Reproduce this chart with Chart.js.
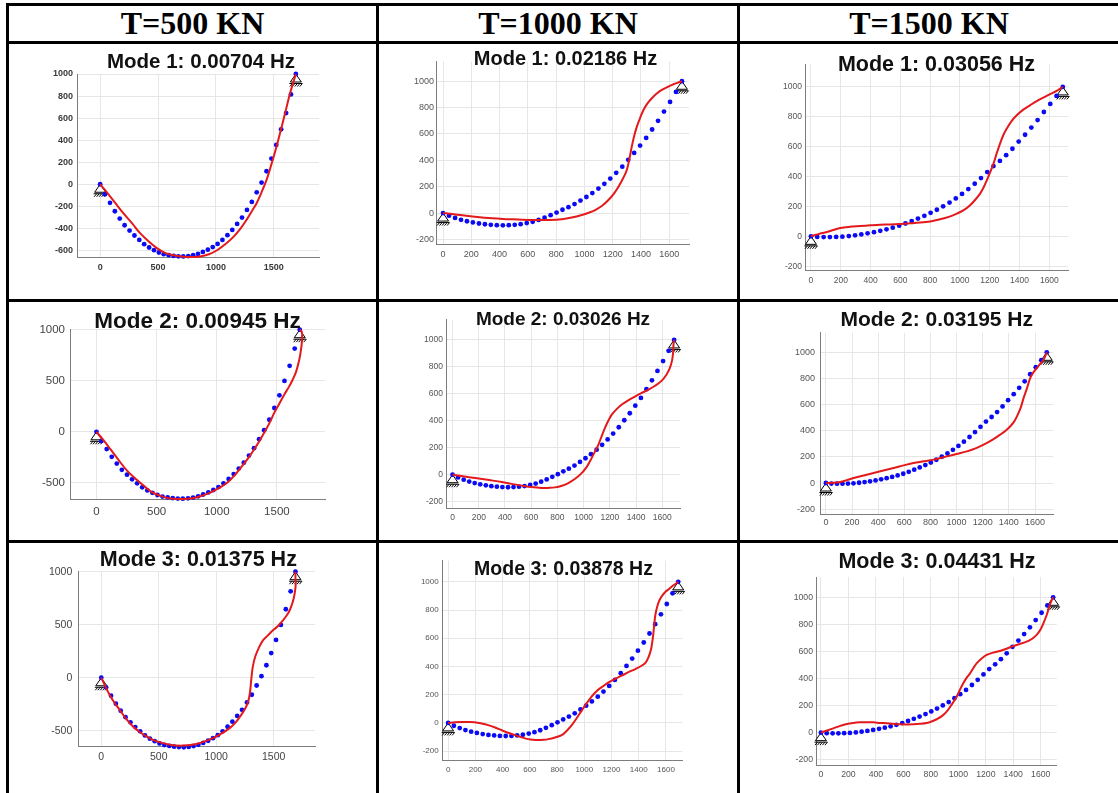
<!DOCTYPE html>
<html>
<head>
<meta charset="utf-8">
<script src="https://cdn.jsdelivr.net/npm/chart.js@4.4.1/dist/chart.umd.min.js"></script>
<style>
  body { margin: 0; background: #fff; width: 1118px; height: 793px; overflow: hidden; position: relative; }
  .rule { position: absolute; background: #000; }
  .head { position: absolute; top: 5px; height: 38px; line-height: 38px; text-align: center;
          font: bold 32px "Liberation Serif", "Times New Roman", serif; color: #000; }
  canvas { position: absolute; }
</style>
</head>
<body>
<script>
// ---------------------------------------------------------------------------
// Data
// ---------------------------------------------------------------------------
const loadLabels = ["T=500 KN", "T=1000 KN", "T=1500 KN"];

const modeTitles = [
    ["Mode 1: 0.00704 Hz", "Mode 1: 0.02186 Hz", "Mode 1: 0.03056 Hz"],
    ["Mode 2: 0.00945 Hz", "Mode 2: 0.03026 Hz", "Mode 2: 0.03195 Hz"],
    ["Mode 3: 0.01375 Hz", "Mode 3: 0.03878 Hz", "Mode 3: 0.04431 Hz"],
];

// x of the blue markers (static cable nodes)
const nodeX = [0, 42, 85, 127, 169, 211, 254, 296, 338, 380, 423, 465, 507, 549, 592, 634, 676, 718,
    761, 803, 845, 887, 930, 972, 1014, 1056, 1099, 1141, 1183, 1225, 1268, 1310, 1352, 1394, 1437,
    1479, 1521, 1563, 1606, 1648, 1690];

// static shape (blue dots) for each tension
const staticY500 = [0, -91, -169, -245, -311, -372, -420, -465, -505, -544, -574, -598, -619, -634,
    -643, -650, -654, -655, -652, -644, -632, -614, -594, -570, -541, -505, -462, -414, -360, -302,
    -233, -160, -73, 15, 118, 233, 357, 498, 646, 815, 1000];
const staticY1000 = [0, -20, -37, -51, -62, -71, -79, -85, -89, -92, -93, -92, -89, -84, -76, -66,
    -52, -35, -16, 4, 25, 45, 68, 95, 122, 152, 186, 222, 262, 305, 352, 404, 456, 512, 570, 634, 700,
    770, 843, 919, 1000];
const staticY1500 = [0, -4, -5, -5, -4, -2, 2, 7, 13, 20, 28, 37, 47, 58, 71, 86, 102, 119, 137, 157,
    178, 201, 226, 254, 284, 316, 352, 390, 430, 470, 505, 543, 586, 634, 680, 728, 778, 832, 886, 940,
    1000];

// mode shapes (red curves), [x, y]
const mode1T500 = [[0, 0], [60, -75], [130, -170], [200, -263], [280, -360], [345, -444], [420, -520],
    [490, -580], [560, -622], [632, -645], [700, -655], [780, -660], [862, -655], [940, -635],
    [1006, -601], [1080, -545], [1149, -480], [1210, -405], [1264, -323], [1310, -245], [1351, -172],
    [1395, -70], [1437, 39], [1480, 185], [1523, 341], [1560, 490], [1597, 643], [1640, 825], [1690, 1000]];
const mode1T1000 = [[0, 0], [100, -12], [226, -28], [350, -40], [462, -46], [560, -51], [651, -53],
    [750, -52], [840, -46], [910, -34], [982, -15], [1030, 2], [1076, 23], [1125, 55], [1170, 99],
    [1210, 150], [1241, 200], [1272, 260], [1300, 327], [1320, 420], [1335, 504], [1352, 585],
    [1371, 656], [1395, 725], [1418, 782], [1445, 830], [1477, 871], [1510, 905], [1548, 934],
    [1590, 957], [1630, 977], [1690, 1000]];
const mode1T1500 = [[0, 0], [50, 15], [107, 29], [150, 42], [197, 56], [260, 64], [331, 69], [400, 74],
    [465, 78], [530, 80], [599, 83], [665, 87], [733, 92], [800, 100], [867, 114], [925, 130], [979, 152],
    [1025, 175], [1068, 208], [1100, 242], [1135, 286], [1160, 330], [1180, 375], [1203, 430],
    [1225, 487], [1248, 560], [1269, 621], [1290, 675], [1314, 721], [1345, 770], [1381, 810],
    [1425, 848], [1470, 877], [1515, 905], [1560, 929], [1605, 952], [1649, 973], [1690, 1000]];

const mode2T500 = [[0, 0], [60, -85], [117, -172], [180, -270], [256, -383], [330, -465], [394, -529],
    [460, -590], [533, -627], [600, -650], [672, -659], [740, -657], [811, -649], [880, -625],
    [950, -594], [1020, -550], [1089, -497], [1150, -425], [1200, -351], [1260, -260], [1311, -172],
    [1355, -90], [1394, -10], [1440, 90], [1478, 185], [1520, 275], [1561, 364], [1600, 440],
    [1631, 510], [1660, 590], [1686, 705], [1700, 800], [1708, 883], [1710, 950], [1705, 985], [1690, 1000]];
const mode2T1000 = [[0, 0], [80, -12], [173, -25], [280, -40], [376, -54], [450, -68], [528, -81],
    [600, -92], [680, -99], [730, -98], [782, -94], [835, -82], [883, -62], [935, -30], [985, 12],
    [1025, 60], [1061, 123], [1088, 175], [1112, 222], [1137, 285], [1162, 346], [1188, 400],
    [1213, 444], [1250, 485], [1289, 519], [1340, 552], [1391, 580], [1440, 605], [1492, 630],
    [1545, 660], [1594, 696], [1630, 740], [1657, 790], [1675, 850], [1683, 914], [1685, 960], [1690, 1000]];
const mode2T1500 = [[0, 0], [55, 2], [110, 8], [160, 22], [212, 38], [290, 58], [365, 77], [440, 96],
    [518, 115], [595, 135], [671, 153], [750, 166], [824, 179], [875, 191], [926, 204], [1000, 222],
    [1079, 242], [1145, 265], [1207, 293], [1270, 328], [1334, 370], [1375, 400], [1411, 434],
    [1440, 470], [1462, 510], [1490, 575], [1513, 651], [1540, 730], [1564, 804], [1590, 850],
    [1615, 880], [1640, 912], [1666, 944], [1690, 1000]];

const mode3T500 = [[0, 0], [35, -80], [73, -162], [115, -235], [160, -303], [215, -385], [276, -459],
    [335, -512], [392, -553], [460, -590], [537, -616], [610, -633], [682, -641], [755, -636],
    [827, -625], [900, -600], [972, -569], [1045, -527], [1117, -475], [1170, -420], [1218, -350],
    [1255, -285], [1280, -220], [1295, -130], [1305, -20], [1318, 100], [1340, 200], [1370, 280],
    [1407, 353], [1450, 400], [1494, 447], [1540, 490], [1581, 541], [1615, 590], [1639, 634],
    [1662, 700], [1677, 759], [1688, 830], [1692, 884], [1690, 940], [1690, 1000]];
const mode3T1000 = [[0, 0], [50, 5], [98, 7], [150, 7], [196, 5], [245, -4], [294, -16], [345, -33],
    [393, -52], [440, -70], [491, -87], [540, -102], [589, -115], [625, -120], [663, -122], [700, -120],
    [736, -115], [785, -103], [834, -87], [870, -57], [908, -16], [945, 35], [982, 89], [1018, 140],
    [1055, 188], [1090, 225], [1129, 254], [1178, 287], [1227, 313], [1275, 335], [1325, 360],
    [1375, 382], [1423, 407], [1452, 430], [1472, 466], [1490, 520], [1501, 584], [1508, 640],
    [1514, 701], [1522, 765], [1534, 819], [1550, 865], [1571, 901], [1595, 928], [1620, 948],
    [1650, 972], [1690, 1000]];
const mode3T1500 = [[0, 0], [45, 16], [90, 32], [140, 50], [187, 64], [235, 72], [284, 76], [335, 77],
    [381, 76], [430, 72], [478, 69], [527, 65], [575, 62], [625, 61], [672, 62], [720, 65], [769, 71],
    [805, 82], [842, 99], [880, 122], [915, 155], [950, 205], [988, 266], [1012, 318], [1036, 365],
    [1060, 405], [1085, 438], [1110, 478], [1133, 512], [1170, 548], [1206, 574], [1255, 592],
    [1303, 603], [1350, 620], [1400, 640], [1450, 656], [1497, 672], [1535, 692], [1570, 722],
    [1597, 760], [1619, 808], [1640, 860], [1655, 906], [1668, 950], [1680, 980], [1690, 1000]];

// support locations (triangles)
const supportPoints = [[0, 0], [1690, 1000]];

// tick labels
const xTicksCoarse = [0, 500, 1000, 1500];
const xTicksFine = [0, 200, 400, 600, 800, 1000, 1200, 1400, 1600];
const yTicksFine500 = [-600, -400, -200, 0, 200, 400, 600, 800, 1000];
const yTicksCoarse = [-500, 0, 500, 1000];
const yTicksFine = [-200, 0, 200, 400, 600, 800, 1000];

// ---------------------------------------------------------------------------
// Page layout (table cells) and panel styling
// ---------------------------------------------------------------------------
const RED = "#e3191c";
const BLUE = "#0a0af5";
const GRID = "#e6e6e6";
const AXIS = "#7d7d7d";
const YW = 40;   // fixed y-axis width
const XH = 24;   // fixed x-axis height

const COLS = [{ left: 9, right: 376 }, { left: 379, right: 737 }, { left: 740, right: 1118 }];
const ROWS = [{ top: 44, bottom: 299 }, { top: 302, bottom: 540 }, { top: 543, bottom: 793 }];

const PANELS = [
    { row: 0, col: 0, red: mode1T500, blue: staticY500, box: [77, 74, 319, 257], x: [-200, 1890], y: [-660, 1000],
      xTicks: xTicksCoarse, yTicks: yTicksFine500, title: [201, 62.5, 20.5],
      tick: { size: 9, weight: "bold", color: "#3a3a3a", padX: 5, padY: 4 } },
    { row: 0, col: 1, red: mode1T1000, blue: staticY1000, box: [436, 61.5, 689, 244.7], x: [-50, 1740], y: [-240, 1150],
      xTicks: xTicksFine, yTicks: yTicksFine, title: [565.5, 59, 20],
      tick: { size: 9, weight: "normal", color: "#555", padX: 4, padY: 2 } },
    { row: 0, col: 2, red: mode1T1500, blue: staticY1500, box: [805, 64.5, 1068, 270.7], x: [-40, 1725], y: [-230, 1150],
      xTicks: xTicksFine, yTicks: yTicksFine, title: [936.5, 65, 21.5],
      tick: { size: 8.5, weight: "normal", color: "#555", padX: 5, padY: 3 } },

    { row: 1, col: 0, red: mode2T500, blue: staticY500, box: [70, 329.7, 325, 499.7], x: [-220, 1900], y: [-665, 1000],
      xTicks: xTicksCoarse, yTicks: yTicksCoarse, title: [197.5, 322, 22.5],
      tick: { size: 11.5, weight: "normal", color: "#444", padX: 5, padY: 5 } },
    { row: 1, col: 1, red: mode2T1000, blue: staticY1000, box: [446, 319.7, 680, 508], x: [-50, 1735], y: [-247, 1150],
      xTicks: xTicksFine, yTicks: yTicksFine, title: [563, 320, 19],
      tick: { size: 8.5, weight: "normal", color: "#555", padX: 5, padY: 3 } },
    { row: 1, col: 2, red: mode2T1500, blue: staticY1500, box: [820, 332.7, 1053.3, 514], x: [-45, 1740], y: [-237, 1150],
      xTicks: xTicksFine, yTicks: yTicksFine, title: [936.7, 320, 21],
      tick: { size: 9, weight: "normal", color: "#555", padX: 3, padY: 5 } },

    { row: 2, col: 0, red: mode3T500, blue: staticY500, box: [78.3, 571.7, 315, 746.7], x: [-200, 1860], y: [-650, 1000],
      xTicks: xTicksCoarse, yTicks: yTicksCoarse, title: [198.3, 560, 21.5],
      tick: { size: 10.5, weight: "normal", color: "#444", padX: 4, padY: 6 } },
    { row: 2, col: 1, red: mode3T1000, blue: staticY1000, box: [442.7, 560.7, 682.3, 760], x: [-40, 1720], y: [-263, 1150],
      xTicks: xTicksFine, yTicks: yTicksFine, title: [563.5, 570, 19.5],
      tick: { size: 8, weight: "normal", color: "#555", padX: 5, padY: 4 } },
    { row: 2, col: 2, red: mode3T1500, blue: staticY1500, box: [816, 577, 1056.7, 765], x: [-36, 1716], y: [-239, 1150],
      xTicks: xTicksFine, yTicks: yTicksFine, title: [937, 562, 21.5],
      tick: { size: 8.7, weight: "normal", color: "#555", padX: 4, padY: 3 } },
];

// ---------------------------------------------------------------------------
// Plugins
// ---------------------------------------------------------------------------
const panelTitlePlugin = {
    id: "panelTitle",
    afterDraw(chart, args, opts) {
        const ctx = chart.ctx;
        ctx.save();
        ctx.font = `bold ${opts.size}px "Liberation Sans", Arial, sans-serif`;
        ctx.fillStyle = "#111";
        ctx.textAlign = "center";
        ctx.textBaseline = "middle";
        ctx.fillText(opts.text, opts.x, opts.y);
        ctx.restore();
    },
};

// pinned-support symbol: triangle with a hatched ground line
const supportPlugin = {
    id: "supports",
    beforeDatasetsDraw(chart, args, opts) {
        const ctx = chart.ctx;
        const xs = chart.scales.x;
        const ys = chart.scales.y;
        ctx.save();
        ctx.strokeStyle = "#000";
        ctx.lineWidth = 1;
        for (const [vx, vy] of opts.points) {
            const px = xs.getPixelForValue(vx);
            const py = ys.getPixelForValue(vy);
            ctx.beginPath();
            ctx.moveTo(px, py);
            ctx.lineTo(px - 5.5, py + 8);
            ctx.lineTo(px + 5.5, py + 8);
            ctx.closePath();
            ctx.fillStyle = "#fff";
            ctx.fill();
            ctx.stroke();
            ctx.beginPath();
            ctx.moveTo(px - 6.5, py + 9.5);
            ctx.lineTo(px + 6.5, py + 9.5);
            for (let k = -6; k <= 5; k += 2.5) {
                ctx.moveTo(px + k, py + 12.5);
                ctx.lineTo(px + k + 2.5, py + 9.5);
            }
            ctx.stroke();
        }
        ctx.restore();
    },
};

// ---------------------------------------------------------------------------
// Table frame and headers
// ---------------------------------------------------------------------------
function addRule(left, top, width, height) {
    const d = document.createElement("div");
    d.className = "rule";
    Object.assign(d.style, { left: left + "px", top: top + "px", width: width + "px", height: height + "px" });
    document.body.appendChild(d);
}

function drawFrame() {
    addRule(6, 3, 1112, 3);       // top
    addRule(6, 3, 3, 790);        // left
    addRule(6, 41, 1112, 3);      // below headers
    addRule(6, 299, 1112, 3);
    addRule(6, 540, 1112, 3);
    addRule(376, 3, 3, 790);
    addRule(737, 3, 3, 790);

    loadLabels.forEach((label, i) => {
        const d = document.createElement("div");
        d.className = "head";
        d.textContent = label;
        d.style.left = COLS[i].left + "px";
        d.style.width = (COLS[i].right - COLS[i].left) + "px";
        document.body.appendChild(d);
    });
}

// ---------------------------------------------------------------------------
// Panels
// ---------------------------------------------------------------------------
function buildPanel(p) {
    const cx = COLS[p.col].left;
    const cy = ROWS[p.row].top;
    const cw = COLS[p.col].right - cx;
    const ch = ROWS[p.row].bottom - cy;
    const [L, T, R, B] = p.box;

    const canvas = document.createElement("canvas");
    canvas.width = cw;
    canvas.height = ch;
    canvas.style.left = cx + "px";
    canvas.style.top = cy + "px";
    document.body.appendChild(canvas);

    const tickFont = { family: '"Liberation Sans", Arial, sans-serif', size: p.tick.size, weight: p.tick.weight };
    const plain = (v) => String(v);   // MATLAB style, no thousands separator

    new Chart(canvas.getContext("2d"), {
        type: "scatter",
        data: {
            datasets: [
                {
                    data: p.red.map(([x, y]) => ({ x, y })),
                    showLine: true,
                    borderColor: RED,
                    borderWidth: 2,
                    pointRadius: 0,
                    tension: 0.35,
                    clip: false,
                    order: 0,
                },
                {
                    data: nodeX.map((x, i) => ({ x, y: p.blue[i] })),
                    backgroundColor: BLUE,
                    borderColor: BLUE,
                    borderWidth: 0,
                    pointRadius: 2.4,
                    clip: false,
                    order: 1,
                },
            ],
        },
        options: {
            responsive: false,
            animation: false,
            devicePixelRatio: 1,
            events: [],
            layout: {
                padding: { left: L - cx - YW, right: cx + cw - R, top: T - cy, bottom: cy + ch - B - XH },
            },
            plugins: {
                legend: { display: false },
                tooltip: { enabled: false },
                panelTitle: { text: modeTitles[p.row][p.col], x: p.title[0] - cx, y: p.title[1] - cy, size: p.title[2] },
                supports: { points: supportPoints },
            },
            scales: {
                x: {
                    type: "linear",
                    min: p.x[0],
                    max: p.x[1],
                    afterFit: (s) => { s.height = XH; },
                    afterBuildTicks: (s) => { s.ticks = p.xTicks.map((v) => ({ value: v })); },
                    grid: { color: GRID, drawTicks: false },
                    border: { color: AXIS },
                    ticks: { font: tickFont, color: p.tick.color, padding: p.tick.padX, autoSkip: false, maxRotation: 0, callback: plain },
                },
                y: {
                    type: "linear",
                    min: p.y[0],
                    max: p.y[1],
                    afterFit: (s) => { s.width = YW; },
                    afterBuildTicks: (s) => { s.ticks = p.yTicks.map((v) => ({ value: v })); },
                    grid: { color: GRID, drawTicks: false },
                    border: { color: AXIS },
                    ticks: { font: tickFont, color: p.tick.color, padding: p.tick.padY, autoSkip: false, callback: plain },
                },
            },
        },
        plugins: [supportPlugin, panelTitlePlugin],
    });
}

drawFrame();
PANELS.forEach(buildPanel);
</script>
</body>
</html>
